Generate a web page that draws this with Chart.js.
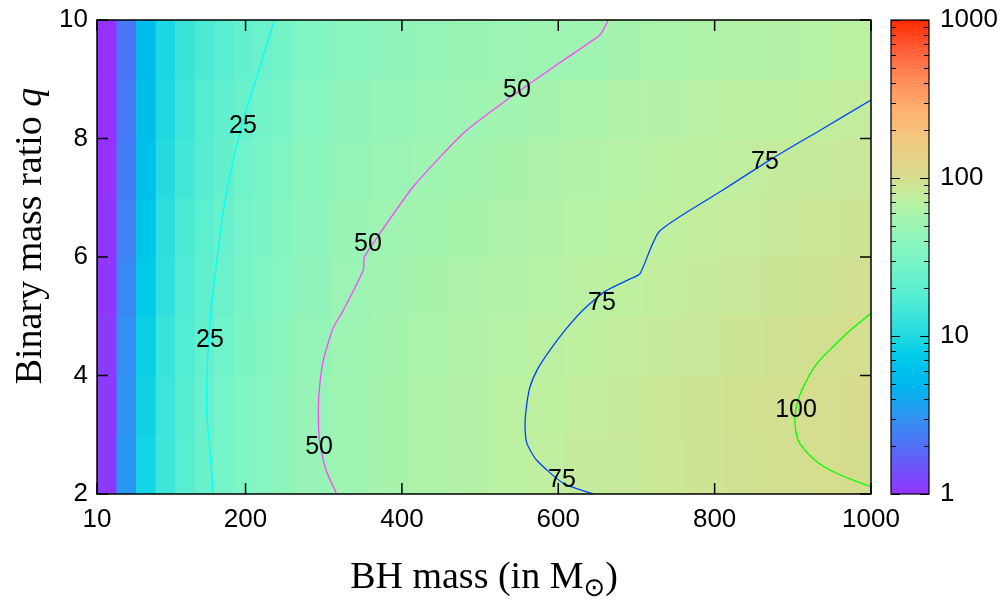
<!DOCTYPE html>
<html>
<head>
<meta charset="utf-8">
<script src="https://cdn.jsdelivr.net/npm/chart.js@4.4.1/dist/chart.umd.min.js"></script>
<style>
  html, body { margin: 0; padding: 0; background: #fff; }
  canvas { display: block; }
</style>
</head>
<body>
<canvas id="chart" width="1008" height="603"></canvas>
<script>
// ====== Eixos ======
const xTicks = [10, 200, 400, 600, 800, 1000];
const yTicks = [2, 4, 6, 8, 10];
const cbTicks = [1, 2, 3, 4, 5, 6, 7, 8, 9, 10, 20, 30, 40, 50, 60, 70, 80, 90,
                 100, 200, 300, 400, 500, 600, 700, 800, 900, 1000];
const cbLabels = [1, 10, 100, 1000];

// ====== Mapa de cores (celulas) ======
const xEdges = [10, 35, 60, 85, 110, 135, 160, 185, 210, 235, 260, 310, 360, 410, 460,
                510, 560, 610, 660, 710, 760, 810, 860, 910, 960, 1000];
const qEdges = [2, 3, 4, 5, 6, 7, 8, 9, 10];
const rowQ2 = [1.1, 3.3, 9, 14, 19, 24, 28, 32, 36, 40, 46, 53, 58, 62, 66, 70, 75, 79, 82, 86, 89, 92, 95, 99, 101];
const rowQ3 = [1.1, 3.1, 8.5, 13.5, 18.5, 23.5, 28, 32, 36, 40, 46, 53, 58, 62, 66, 70, 74, 78, 82, 86, 90, 93, 96, 99, 102];
const rowQ4 = [1.1, 2.9, 8, 13, 17.5, 22, 26.5, 30.5, 34, 38, 44, 51, 56, 60, 64, 67, 71, 74, 78, 82, 85, 89, 92, 96, 99];
const rowQ5 = [1.05, 2.7, 7.2, 12, 16.5, 21, 25, 29, 32.5, 36, 42, 49, 54, 58, 61, 64, 67, 71, 74, 77, 81, 84, 87, 90, 94];
const rowQ6 = [1.05, 2.5, 6.5, 11.5, 16, 20, 24, 28, 31, 34.5, 40, 47, 52, 55, 58, 61, 64, 67, 70, 74, 77, 80, 83, 86, 89];
const rowQ7 = [1, 2.4, 6, 10.5, 14.5, 18.5, 22.5, 26, 29.5, 32.5, 38, 44, 48, 52, 55, 58, 61, 64, 67, 70, 73, 76, 79, 82, 85];
const rowQ8 = [1, 2.3, 5.7, 10, 13.5, 17.5, 21, 24, 27, 30, 36, 41, 45, 48, 51, 54, 57, 60, 63, 66, 69, 71, 73, 76, 78];
const rowQ9 = [1, 2.2, 5.5, 9.5, 13, 16, 19, 22, 24.5, 27.5, 33, 37, 41, 44, 47, 49, 51, 53, 56, 59, 62, 64, 66, 68, 70];
const cellRows = [rowQ2, rowQ3, rowQ4, rowQ5, rowQ6, rowQ7, rowQ8, rowQ9];

// ====== Paleta (fracao log10(v)/3 -> cor) ======
const paletteT = [0, 0.08, 0.165, 0.228, 0.29, 0.333, 0.409, 0.494, 0.578, 0.622, 0.667, 0.747, 0.81, 0.873, 0.937, 1];
const paletteC = ['#9433ff', '#5d63f8', '#2e95f2', '#00b6ee', '#00cbea', '#20d9e0', '#50ecd4', '#7af5c6',
                  '#a2f4b0', '#bef0a0', '#d6dc8e', '#f2c880', '#ffb070', '#ff8c5a', '#ff5e3a', '#ff2a00'];

// ====== Curvas de nivel [massa, q] ======
const contour25 = [[158.8, 2], [154, 2.8], [150.3, 3.42], [150.8, 4], [152.4, 4.54], [156, 5.1], [160.9, 5.67],
                   [171.6, 6.79], [184.4, 7.64], [197.1, 8.31], [214.3, 9.04], [235.5, 9.94], [237, 10]];
const contour50 = [[316.5, 2], [303, 2.4], [295, 2.86], [293, 3.42], [295, 3.85], [299.5, 4.26], [312, 4.8],
                   [325, 5.1], [350.7, 5.78], [352, 6.0], [372, 6.4], [414.6, 7.19], [478.6, 8.09], [534, 8.65],
                   [606.5, 9.32], [653.4, 9.75], [664, 10]];
const contour75 = [[644.8, 2], [606.5, 2.18], [572.4, 2.57], [560, 2.85], [557.5, 3.14], [559, 3.45],
                   [563.9, 3.81], [574, 4.12], [589.4, 4.43], [609, 4.77], [632, 5.11], [660, 5.42],
                   [692, 5.63], [704.6, 5.72], [729.2, 6.43], [807, 7.1], [871, 7.64], [935, 8.14], [1000, 8.65]];
const contour100 = [[1000, 5.05], [975, 4.78], [951.8, 4.49], [932, 4.22], [917.7, 3.92], [907, 3.6],
                    [902.8, 3.3], [904, 3.05], [909, 2.85], [930.4, 2.55], [956, 2.35], [1000, 2.12]];
const labelText = ['25', '25', '50', '50', '50', '75', '75', '75', '100'];
const labelX = [196.7, 154.5, 547.2, 356.6, 294, 864.4, 655.9, 604.8, 904.1];
const labelQ = [8.21, 4.60, 8.82, 6.22, 2.79, 7.60, 5.22, 2.24, 3.42];

const sansFont = "'Liberation Sans', Arial, Helvetica, sans-serif";
const serifFont = "'Liberation Serif', 'Times New Roman', serif";

function hexToRgb(h) {
    return [parseInt(h.slice(1, 3), 16), parseInt(h.slice(3, 5), 16), parseInt(h.slice(5, 7), 16)];
}

function colorFor(v) {
    const t = Math.min(1, Math.max(0, Math.log10(v) / 3));
    let i = 0;
    while (i < paletteT.length - 2 && t > paletteT[i + 1]) i++;
    const f = (t - paletteT[i]) / (paletteT[i + 1] - paletteT[i]);
    const a = hexToRgb(paletteC[i]), b = hexToRgb(paletteC[i + 1]);
    const c = a.map((av, k) => Math.round(av + (b[k] - av) * f));
    return `rgb(${c[0]},${c[1]},${c[2]})`;
}

// ====== Plugins ======
const heatmapPlugin = {
    id: 'heatmap',
    beforeDatasetsDraw(chart) {
        const { ctx, chartArea, scales: { x, y } } = chart;
        ctx.save();
        ctx.beginPath();
        ctx.rect(chartArea.left, chartArea.top, chartArea.width, chartArea.height);
        ctx.clip();
        cellRows.forEach((row, r) => {
            const yTop = y.getPixelForValue(qEdges[r + 1]);
            const yBot = y.getPixelForValue(qEdges[r]);
            row.forEach((v, c) => {
                const xl = x.getPixelForValue(xEdges[c]);
                const xr = x.getPixelForValue(xEdges[c + 1]);
                ctx.fillStyle = colorFor(v);
                ctx.fillRect(xl, yTop, xr - xl + 0.6, yBot - yTop + 0.6);
            });
        });
        ctx.restore();
    }
};

const labelsPlugin = {
    id: 'contourLabels',
    afterDatasetsDraw(chart) {
        const { ctx, scales: { x, y } } = chart;
        ctx.save();
        ctx.font = `25px ${sansFont}`;
        ctx.fillStyle = '#000';
        ctx.textAlign = 'center';
        ctx.textBaseline = 'middle';
        labelText.forEach((t, i) => {
            ctx.fillText(t, x.getPixelForValue(labelX[i]), y.getPixelForValue(labelQ[i]));
        });
        ctx.restore();
    }
};

const framePlugin = {
    id: 'frame',
    afterDraw(chart) {
        const { ctx, chartArea: a, scales: { x, y, cb } } = chart;
        ctx.save();
        ctx.strokeStyle = '#000';
        ctx.lineWidth = 1.5;
        // caixa do grafico
        ctx.strokeRect(a.left, a.top, a.width, a.height);
        // ticks para dentro
        ctx.beginPath();
        const tl = 11;
        xTicks.forEach(v => {
            const px = x.getPixelForValue(v);
            ctx.moveTo(px, a.bottom); ctx.lineTo(px, a.bottom - tl);
            ctx.moveTo(px, a.top); ctx.lineTo(px, a.top + tl);
        });
        yTicks.forEach(v => {
            const py = y.getPixelForValue(v);
            ctx.moveTo(a.left, py); ctx.lineTo(a.left + tl, py);
            ctx.moveTo(a.right, py); ctx.lineTo(a.right - tl, py);
        });
        ctx.stroke();

        // barra de cores
        const bl = 891, br = 929;
        const grad = ctx.createLinearGradient(0, cb.bottom, 0, cb.top);
        paletteT.forEach((t, i) => grad.addColorStop(t, paletteC[i]));
        ctx.fillStyle = grad;
        ctx.fillRect(bl, cb.top, br - bl, cb.bottom - cb.top);
        ctx.lineWidth = 1.2;
        ctx.strokeRect(bl, cb.top, br - bl, cb.bottom - cb.top);
        ctx.beginPath();
        cbTicks.forEach(v => {
            const py = Math.round(cb.getPixelForValue(v)) + 0.5;
            const len = cbLabels.includes(v) ? 9 : 5;
            ctx.moveTo(bl, py); ctx.lineTo(bl + len, py);
            ctx.moveTo(br, py); ctx.lineTo(br - len, py);
        });
        ctx.stroke();

        // titulos dos eixos
        ctx.fillStyle = '#000';
        ctx.textBaseline = 'alphabetic';
        const big = `38px ${serifFont}`;
        const bigIt = `italic 38px ${serifFont}`;
        const small = `26px 'DejaVu Sans', ${serifFont}`;
        // eixo x
        ctx.font = big;
        const p1 = 'BH mass (in M';
        const w1 = ctx.measureText(p1).width;
        ctx.font = small;
        const wSun = ctx.measureText('\u2299').width;
        ctx.font = big;
        const w2 = ctx.measureText(')').width;
        let sx = (a.left + a.right) / 2 - (w1 + wSun + w2) / 2;
        const by = 588;
        ctx.textAlign = 'left';
        ctx.fillText(p1, sx, by);
        ctx.font = small;
        ctx.fillText('\u2299', sx + w1, by + 8);
        ctx.font = big;
        ctx.fillText(')', sx + w1 + wSun, by);
        // eixo y
        ctx.translate(41, 236);
        ctx.rotate(-Math.PI / 2);
        const t1 = 'Binary mass ratio ';
        ctx.font = big;
        const wt1 = ctx.measureText(t1).width;
        ctx.font = bigIt;
        const wq = ctx.measureText('q').width;
        const start = -(wt1 + wq) / 2;
        ctx.font = big;
        ctx.fillText(t1, start, 0);
        ctx.font = bigIt;
        ctx.fillText('q', start + wt1, 0);
        ctx.restore();
    }
};

// ====== Grafico ======
const contourStyle = (data, color, tension) => ({
    data: data.map(p => ({ x: p[0], y: p[1] })),
    showLine: true,
    borderColor: color,
    borderWidth: 1.3,
    pointRadius: 0,
    tension: tension,
    fill: false
});

new Chart(document.getElementById('chart'), {
    type: 'scatter',
    data: {
        datasets: [
            contourStyle(contour25, '#00ffff', 0.35),
            contourStyle(contour50, '#ff44ff', 0.2),
            contourStyle(contour75, '#0044ff', 0.2),
            contourStyle(contour100, '#00ff00', 0.35)
        ]
    },
    options: {
        responsive: false,
        animation: false,
        layout: { padding: { top: 20, left: 0, right: 0, bottom: 0 } },
        plugins: { legend: { display: false }, tooltip: { enabled: false } },
        scales: {
            x: {
                type: 'linear', position: 'bottom', min: 10, max: 1000,
                afterBuildTicks: s => { s.ticks = xTicks.map(v => ({ value: v })); },
                afterFit: s => { s.height = 109; },
                grid: { display: false, drawTicks: false },
                border: { display: false },
                ticks: { color: '#000', padding: 10, maxRotation: 0, autoSkip: false,
                         font: { family: sansFont, size: 26 }, callback: v => String(v) }
            },
            y: {
                type: 'linear', position: 'left', min: 2, max: 10,
                afterBuildTicks: s => { s.ticks = yTicks.map(v => ({ value: v })); },
                afterFit: s => { s.width = 97; s.paddingTop = 0; s.paddingBottom = 0; },
                grid: { display: false, drawTicks: false },
                border: { display: false },
                ticks: { color: '#000', padding: 9, autoSkip: false,
                         font: { family: sansFont, size: 26 } }
            },
            cb: {
                type: 'logarithmic', position: 'right', min: 1, max: 1000,
                afterBuildTicks: s => { s.ticks = cbTicks.map(v => ({ value: v })); },
                afterFit: s => { s.width = 137; s.paddingTop = 0; s.paddingBottom = 0; },
                grid: { display: false, drawTicks: false },
                border: { display: false },
                ticks: { color: '#000', padding: 69, autoSkip: false,
                         font: { family: sansFont, size: 26 },
                         callback: v => cbLabels.includes(Math.round(v)) ? String(Math.round(v)) : '' }
            }
        }
    },
    plugins: [heatmapPlugin, labelsPlugin, framePlugin]
});
</script>
</body>
</html>
